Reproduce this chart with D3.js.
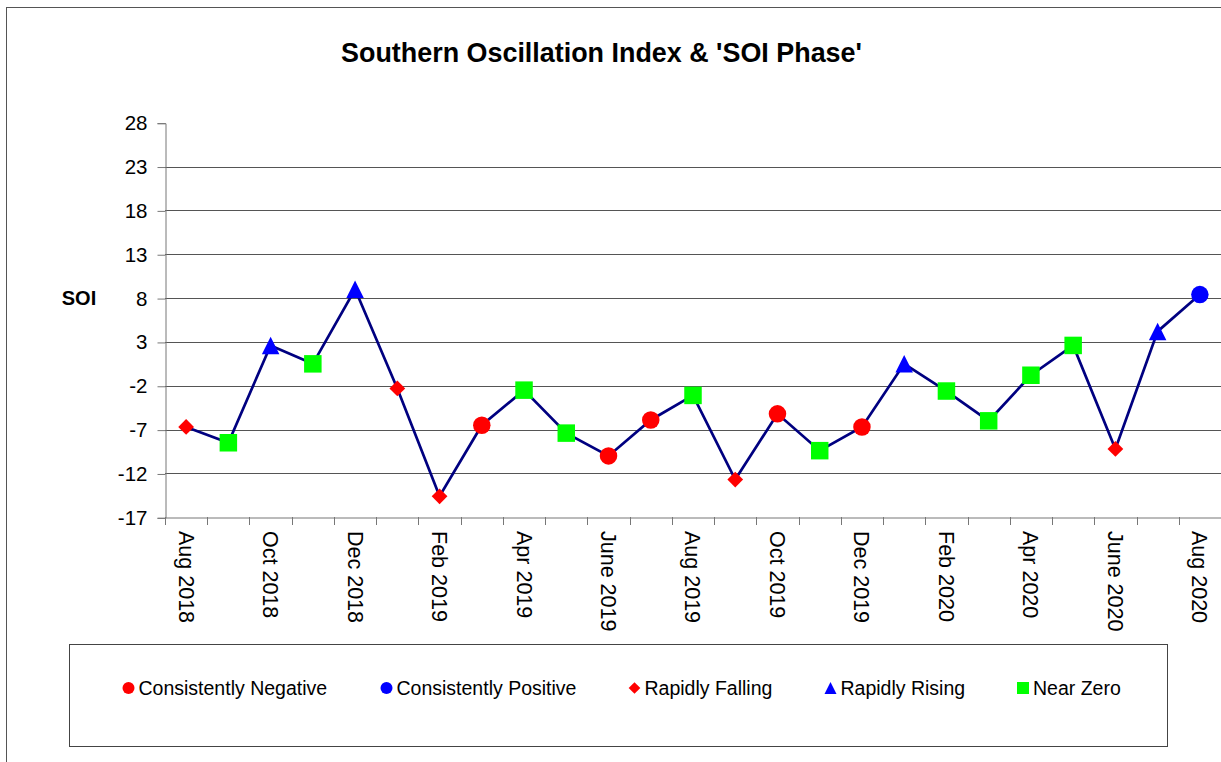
<!DOCTYPE html>
<html>
<head>
<meta charset="utf-8">
<script src="https://cdn.jsdelivr.net/npm/d3@7"></script>
<style>
  html, body { margin: 0; padding: 0; background: #fff; }
  svg { display: block; font-family: "Liberation Sans", Arial, sans-serif; }
</style>
</head>
<body>
<svg id="chart" width="1221" height="762"></svg>
<script>
// ---- data ----
const months = ["Aug 2018","Sep 2018","Oct 2018","Nov 2018","Dec 2018","Jan 2019","Feb 2019","Mar 2019",
  "Apr 2019","May 2019","June 2019","July 2019","Aug 2019","Sep 2019","Oct 2019","Nov 2019","Dec 2019",
  "Jan 2020","Feb 2020","Mar 2020","Apr 2020","May 2020","June 2020","July 2020","Aug 2020"];
const soi = [-6.7, -8.5, 2.6, 0.5, 9.0, -2.3, -14.6, -6.5,
  -2.5, -7.4, -10.0, -5.9, -3.1, -12.7, -5.2, -9.4, -6.7,
  0.5, -2.6, -6.0, -0.8, 2.6, -9.2, 4.2, 8.4];
const phases = ["RF","NZ","RR","NZ","RR","RF","RF","CN",
  "NZ","NZ","CN","CN","NZ","RF","CN","NZ","CN",
  "RR","NZ","NZ","NZ","NZ","RF","RR","CP"];
const phaseKeys = ["CN","CP","RF","RR","NZ"];
const phaseNames = ["Consistently Negative","Consistently Positive","Rapidly Falling","Rapidly Rising","Near Zero"];
const phaseColors = ["#FF0000","#0000FF","#FF0000","#0000FF","#00FF00"];
const phaseShapes = ["circle","circle","diamond","triangle","square"];
const yTicks = [28, 23, 18, 13, 8, 3, -2, -7, -12, -17];
const title = "Southern Oscillation Index & 'SOI Phase'";
const yTitle = "SOI";

// ---- layout ----
const svg = d3.select("#chart");
const plot = { left: 165, right: 1221, top: 122.7, bottom: 517.3 };

const x = d3.scaleBand().domain(months).range([plot.left, plot.right]).padding(0);
const y = d3.scaleLinear().domain([-17, 28]).range([plot.bottom, plot.top]);

// outer border
svg.append("rect").attr("x", 6.5).attr("y", 7.5).attr("width", 1400).attr("height", 900)
  .attr("fill", "none").attr("stroke", "#555").attr("stroke-width", 1);

// title
svg.append("text").attr("x", 601.5).attr("y", 62).attr("text-anchor", "middle")
  .attr("font-size", 26.9).attr("font-weight", "bold").attr("fill", "#000").text(title);

// gridlines
svg.append("g").selectAll("line").data(yTicks.filter(t => t !== -17 && t !== 28)).join("line")
  .attr("x1", plot.left).attr("x2", plot.right)
  .attr("y1", d => Math.round(y(d)) + 0.5).attr("y2", d => Math.round(y(d)) + 0.5)
  .attr("stroke", "#555").attr("stroke-width", 1);

// y axis
const yAxis = d3.axisLeft(y).tickValues(yTicks).tickSize(8).tickPadding(10).tickFormat(d => String(d));
const gy = svg.append("g").attr("transform", `translate(${plot.left + 0.5},0.5)`).call(yAxis);
gy.select(".domain").attr("stroke", "#777");
gy.selectAll(".tick line").attr("stroke", "#777");
gy.selectAll(".tick text").attr("font-size", 20.5).attr("fill", "#000")
  .attr("font-family", "'Liberation Sans', Arial, sans-serif");

// x axis
const xAxis = d3.axisBottom(x).tickSize(0).tickFormat("");
const gx = svg.append("g").attr("transform", `translate(0,${Math.round(plot.bottom) + 0.5})`).call(xAxis);
gx.select(".domain").attr("stroke", "#777");
// boundary ticks
const bounds = months.map(m => x(m)).concat([plot.right]);
svg.append("g").selectAll("line").data(bounds).join("line")
  .attr("x1", d => Math.round(d) + 0.5).attr("x2", d => Math.round(d) + 0.5)
  .attr("y1", Math.round(plot.bottom)).attr("y2", Math.round(plot.bottom) + 8)
  .attr("stroke", "#777");
// x labels (every other month)
svg.append("g").selectAll("text").data(months.filter((m, i) => i % 2 === 0)).join("text")
  .attr("transform", d => `translate(${x(d) + x.bandwidth() / 2},531) rotate(90)`)
  .attr("dy", "0.35em").attr("text-anchor", "start")
  .attr("font-size", 21.5).attr("fill", "#000").text(d => d);

// y title
svg.append("text").attr("x", 79).attr("y", 305).attr("text-anchor", "middle")
  .attr("font-size", 20).attr("font-weight", "bold").attr("fill", "#000").text(yTitle);

// shape helper
function shapePath(shape, s) {
  const h = s / 2;
  if (shape === "circle") {
    return `M${h},0A${h},${h} 0 1,1 ${-h},0A${h},${h} 0 1,1 ${h},0Z`;
  } else if (shape === "square") {
    return `M${-h},${-h}H${h}V${h}H${-h}Z`;
  } else if (shape === "diamond") {
    const d = h * 0.9;
    return `M0,${-d}L${d},0L0,${d}L${-d},0Z`;
  } else {
    return `M0,${-h}L${h},${h}L${-h},${h}Z`;
  }
}

// line
const data = months.map((m, i) => ({ m, v: soi[i], p: phases[i] }));
const line = d3.line().x(d => x(d.m) + x.bandwidth() / 2).y(d => y(d.v));
svg.append("path").datum(data).attr("d", line)
  .attr("fill", "none").attr("stroke", "#000080").attr("stroke-width", 2.7).attr("stroke-linejoin", "miter");

// markers
svg.append("g").selectAll("path").data(data).join("path")
  .attr("transform", d => `translate(${x(d.m) + x.bandwidth() / 2},${y(d.v)})`)
  .attr("d", d => { const k = phaseKeys.indexOf(d.p); return shapePath(phaseShapes[k], phaseShapes[k] === "diamond" ? 17.5 : 17.5); })
  .attr("fill", d => phaseColors[phaseKeys.indexOf(d.p)]);

// legend
svg.append("rect").attr("x", 69.5).attr("y", 644.5).attr("width", 1098).attr("height", 102)
  .attr("fill", "#fff").attr("stroke", "#444").attr("stroke-width", 1);
const legendX = [128.5, 386.5, 634.5, 830.5, 1023];
const lg = svg.append("g").selectAll("g").data(phaseKeys).join("g")
  .attr("transform", (d, i) => `translate(${legendX[i]},688)`);
lg.append("path").attr("d", (d, i) => shapePath(phaseShapes[i], phaseShapes[i] === "diamond" ? 13 : 12))
  .attr("fill", (d, i) => phaseColors[i]);
lg.append("text").attr("x", 10).attr("y", 7).attr("font-size", 19.5).attr("fill", "#000")
  .text((d, i) => phaseNames[i]);
</script>
</body>
</html>
